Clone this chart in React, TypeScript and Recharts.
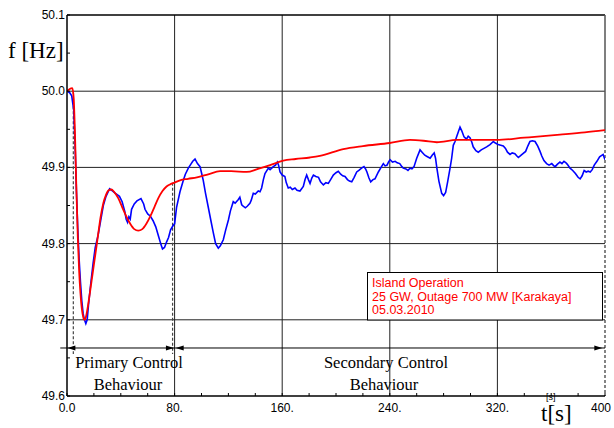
import React from "react";
import { LineChart, Line, XAxis, YAxis, ReferenceLine, ReferenceDot } from "recharts";

// simulated frequency (red)
const simT = [0, 2, 4, 5, 6, 7, 8, 9, 10, 11, 12, 13, 14, 15, 17, 19, 21, 23, 25, 27, 29, 31, 33, 35, 38, 41, 44, 47, 50, 53, 56, 59, 62, 65, 68, 71, 74, 77, 80, 84, 90, 96.6, 105, 113.8, 122, 133.6, 142, 151, 160.8, 170, 180.7, 188, 205.4, 220, 240, 255, 265, 275, 289.7, 300, 319.5, 340, 366.5, 385, 400];
const simF = [50.0, 50.003, 50.004, 49.99, 49.94, 49.87, 49.81, 49.765, 49.735, 49.715, 49.704, 49.7, 49.703, 49.712, 49.735, 49.76, 49.785, 49.81, 49.835, 49.853, 49.864, 49.87, 49.871, 49.868, 49.86, 49.848, 49.836, 49.826, 49.819, 49.817, 49.819, 49.826, 49.836, 49.848, 49.86, 49.869, 49.875, 49.878, 49.88, 49.883, 49.885, 49.887, 49.891, 49.895, 49.895, 49.894, 49.898, 49.903, 49.909, 49.911, 49.913, 49.915, 49.924, 49.928, 49.932, 49.936, 49.935, 49.933, 49.936, 49.936, 49.936, 49.939, 49.943, 49.946, 49.949];

// measured frequency (blue)
const measT = [0, 2, 3.5, 5, 6, 7, 8, 9, 10, 11, 12, 13, 14, 15, 16, 17.5, 19.4, 21, 23, 25, 27, 29, 31.7, 34, 36, 39, 41, 43, 44, 45, 46, 47, 48, 50, 52, 55, 57, 58, 60, 62, 64, 66, 68, 70, 71, 72.5, 74, 75.5, 77, 79, 80, 81.5, 84, 86.5, 88, 90.2, 92, 93.5, 95.2, 97, 98.9, 100, 101.3, 103, 105, 107, 108.8, 110.5, 112.5, 114, 116.2, 118, 120, 121.5, 123.6, 125, 127.4, 128.5, 129.9, 131, 132.6, 134, 136, 137, 138.5, 140, 142.2, 143.5, 144.7, 146, 147.2, 149.7, 151, 153.4, 155, 156.4, 157.3, 158.4, 160, 162, 163, 164.5, 166, 167.5, 169.5, 171, 173.2, 175.7, 177, 178.2, 179.5, 180.7, 182, 183.2, 185, 187, 188.5, 190.6, 192.5, 194.3, 196, 198, 200, 201.7, 203.5, 205, 206.7, 208.5, 210, 211.7, 213.5, 215.4, 217, 219, 220.8, 222, 223, 224.5, 225.8, 227.5, 229, 231.5, 233.5, 235.2, 236.5, 238, 239, 240.2, 242, 244, 245.5, 247.4, 249, 250, 252, 253.5, 255, 256.5, 258, 260, 262.5, 264, 266, 268, 270, 271.5, 273, 274, 275, 276.5, 278.6, 280, 281.5, 283, 284.8, 286, 287.2, 288.5, 290, 292.2, 293.5, 295.2, 297, 298.3, 299.6, 301, 302, 304, 305.8, 308, 310, 312, 314.5, 317, 318.5, 320.5, 322.5, 324.4, 326, 327.5, 329.4, 331, 333, 334.5, 335.6, 337, 339, 341, 342.6, 344.2, 346, 348, 350, 351.7, 353, 354.6, 356.6, 358.4, 360.4, 362, 363, 364.5, 366.5, 368, 369.5, 371, 372, 374, 376, 378, 380, 381.5, 383, 384.5, 386, 387.5, 389, 390.5, 392, 394, 396, 398.6, 400];
const measF = [50.0, 49.998, 49.994, 49.975, 49.93, 49.87, 49.82, 49.78, 49.75, 49.725, 49.708, 49.7, 49.695, 49.7, 49.72, 49.745, 49.774, 49.795, 49.81, 49.83, 49.85, 49.862, 49.872, 49.869, 49.866, 49.862, 49.855, 49.842, 49.832, 49.828, 49.835, 49.832, 49.845, 49.852, 49.856, 49.859, 49.852, 49.845, 49.839, 49.836, 49.83, 49.822, 49.81, 49.798, 49.793, 49.795, 49.802, 49.808, 49.818, 49.824, 49.826, 49.848, 49.868, 49.883, 49.891, 49.899, 49.904, 49.908, 49.911, 49.905, 49.901, 49.893, 49.883, 49.866, 49.848, 49.83, 49.814, 49.8, 49.794, 49.797, 49.805, 49.818, 49.831, 49.843, 49.855, 49.853, 49.858, 49.861, 49.851, 49.849, 49.847, 49.849, 49.853, 49.857, 49.866, 49.865, 49.869, 49.868, 49.873, 49.884, 49.892, 49.899, 49.897, 49.901, 49.903, 49.907, 49.903, 49.894, 49.89, 49.888, 49.88, 49.873, 49.874, 49.871, 49.873, 49.87, 49.869, 49.875, 49.884, 49.89, 49.884, 49.879, 49.886, 49.89, 49.888, 49.887, 49.881, 49.877, 49.88, 49.879, 49.884, 49.89, 49.893, 49.895, 49.891, 49.889, 49.888, 49.884, 49.882, 49.881, 49.887, 49.894, 49.896, 49.899, 49.901, 49.898, 49.894, 49.886, 49.881, 49.884, 49.885, 49.894, 49.9, 49.905, 49.902, 49.903, 49.907, 49.91, 49.907, 49.908, 49.906, 49.905, 49.901, 49.899, 49.898, 49.896, 49.899, 49.898, 49.901, 49.912, 49.923, 49.92, 49.916, 49.914, 49.912, 49.916, 49.919, 49.912, 49.899, 49.882, 49.866, 49.863, 49.867, 49.881, 49.899, 49.912, 49.929, 49.934, 49.942, 49.953, 49.948, 49.94, 49.937, 49.941, 49.939, 49.933, 49.927, 49.922, 49.92, 49.923, 49.925, 49.927, 49.93, 49.934, 49.932, 49.93, 49.929, 49.928, 49.925, 49.92, 49.917, 49.919, 49.918, 49.915, 49.913, 49.915, 49.918, 49.921, 49.928, 49.934, 49.935, 49.934, 49.928, 49.921, 49.915, 49.909, 49.905, 49.903, 49.905, 49.902, 49.901, 49.904, 49.907, 49.905, 49.908, 49.906, 49.904, 49.899, 49.896, 49.892, 49.887, 49.885, 49.889, 49.896, 49.894, 49.895, 49.894, 49.897, 49.903, 49.908, 49.914, 49.917, 49.91];

const xTicks = [0, 20, 40, 60, 80, 100, 120, 140, 160, 180, 200, 220, 240, 260, 280, 300, 320, 340, 360, 380, 400];
const yTicks = [49.6, 49.65, 49.7, 49.75, 49.8, 49.85, 49.9, 49.95, 50.0, 50.05, 50.1];
const xGrid = [80, 160, 240, 320];
const yGrid = [49.7, 49.8, 49.9, 50.0];

const simData = simT.map((t, i) => ({ t, f: simF[i] }));
const measData = measT.map((t, i) => ({ t, f: measF[i] }));

const ARROW_Y = 49.663;
const SANS = "'Liberation Sans', Arial, sans-serif";
const SERIF = "'Liberation Serif', 'Times New Roman', serif";

function XTick(props: any) {
  const { x, y, payload } = props;
  const v = payload.value;
  const major = v % 80 === 0;
  let label = `${v}.`;
  if (v === 0) label = "0.0";
  if (v === 400) label = "400";
  return (
    <g>
      <line x1={x} x2={x} y1={y} y2={y - 3} stroke="#000" />
      {major && (
        <text
          x={v === 400 ? x - 4 : x}
          y={y + 16}
          textAnchor="middle"
          fontSize={12}
          fontFamily={SANS}
          fill="#000"
        >
          {label}
        </text>
      )}
    </g>
  );
}

function YTick(props: any) {
  const { x, y, payload } = props;
  const v = payload.value;
  const major = Math.round(v * 100) % 10 === 0;
  return (
    <g>
      <line x1={x} x2={x + 3} y1={y} y2={y} stroke="#000" />
      {major && (
        <text x={x - 2} y={y + 4} textAnchor="end" fontSize={12} fontFamily={SANS} fill="#000">
          {v.toFixed(1)}
        </text>
      )}
    </g>
  );
}

const arrowLeft = (p: any) => (
  <polygon points={`${p.cx},${p.cy} ${p.cx + 8},${p.cy - 2.5} ${p.cx + 8},${p.cy + 2.5}`} fill="#000" />
);
const arrowRight = (p: any) => (
  <polygon points={`${p.cx},${p.cy} ${p.cx - 8},${p.cy - 2.5} ${p.cx - 8},${p.cy + 2.5}`} fill="#000" />
);

export default function App() {
  return (
    <div style={{ position: "absolute", left: 0, top: 0, width: 614, height: 428, background: "#fff" }}>
      <LineChart width={614} height={428} margin={{ top: 15, right: 9, bottom: 2, left: 7 }}>
        <XAxis
          dataKey="t"
          type="number"
          domain={[0, 400]}
          ticks={xTicks}
          interval={0}
          tickSize={0}
          tickMargin={0}
          height={30}
          axisLine={{ stroke: "#000", strokeWidth: 1.5 }}
          tick={(p: any) => <XTick {...p} />}
          allowDataOverflow
        />
        <YAxis
          type="number"
          domain={[49.6, 50.1]}
          ticks={yTicks}
          interval={0}
          tickSize={0}
          tickMargin={0}
          width={60}
          axisLine={{ stroke: "#000", strokeWidth: 1.5 }}
          tick={(p: any) => <YTick {...p} />}
          allowDataOverflow
        />
        {xGrid.map((v) => (
          <ReferenceLine key={`gx${v}`} x={v} stroke="#222" strokeWidth={1} />
        ))}
        {yGrid.map((v) => (
          <ReferenceLine key={`gy${v}`} y={v} stroke="#222" strokeWidth={1} />
        ))}
        <ReferenceLine y={50.1} stroke="#000" strokeWidth={1.5} />
        <ReferenceLine
          segment={[{ x: 400, y: 50.1 }, { x: 400, y: 49.949 }]}
          stroke="#555"
          strokeWidth={1.5}
        />
        <ReferenceLine
          segment={[{ x: 400, y: 49.949 }, { x: 400, y: 49.6 }]}
          stroke="#333"
          strokeWidth={1.2}
          strokeDasharray="3 2"
        />
        <ReferenceLine
          segment={[{ x: 4.7, y: 50.0 }, { x: 4.7, y: 49.655 }]}
          stroke="#444"
          strokeWidth={1.2}
          strokeDasharray="3 2"
        />
        <ReferenceLine
          segment={[{ x: 78.5, y: 49.88 }, { x: 78.5, y: 49.655 }]}
          stroke="#444"
          strokeWidth={1.2}
          strokeDasharray="3 2"
        />
        <ReferenceLine
          segment={[{ x: -5, y: ARROW_Y }, { x: 400, y: ARROW_Y }]}
          stroke="#000"
          strokeWidth={1}
          ifOverflow="visible"
        />
        <ReferenceDot x={0.3} y={ARROW_Y} r={0} shape={arrowLeft} ifOverflow="visible" />
        <ReferenceDot x={79.5} y={ARROW_Y} r={0} shape={arrowRight} ifOverflow="visible" />
        <ReferenceDot x={80.8} y={ARROW_Y} r={0} shape={arrowLeft} ifOverflow="visible" />
        <ReferenceDot x={398} y={ARROW_Y} r={0} shape={arrowRight} ifOverflow="visible" />
        <Line
          data={measData}
          dataKey="f"
          type="linear"
          stroke="#0000ff"
          strokeWidth={1.6}
          dot={false}
          isAnimationActive={false}
        />
        <Line
          data={simData}
          dataKey="f"
          type="monotone"
          stroke="#ff0000"
          strokeWidth={1.8}
          dot={false}
          isAnimationActive={false}
        />
      </LineChart>
      <svg
        width={614}
        height={428}
        style={{ position: "absolute", left: 0, top: 0, pointerEvents: "none" }}
      >
        <text x={8} y={58} fontSize={23} fontFamily={SERIF} fill="#000">
          f [Hz]
        </text>
        <text x={129} y={368} fontSize={16.5} fontFamily={SERIF} textAnchor="middle" fill="#000">
          Primary Control
        </text>
        <text x={128} y={390} fontSize={16.5} fontFamily={SERIF} textAnchor="middle" fill="#000">
          Behaviour
        </text>
        <text x={386} y={368} fontSize={16.5} fontFamily={SERIF} textAnchor="middle" fill="#000">
          Secondary Control
        </text>
        <text x={384} y={390} fontSize={16.5} fontFamily={SERIF} textAnchor="middle" fill="#000">
          Behaviour
        </text>
        <text x={546} y={400} fontSize={9} fontFamily={SANS} fill="#000">
          [s]
        </text>
        <text x={541} y={421} fontSize={23} fontFamily={SERIF} fill="#000">
          t[s]
        </text>
        <rect x={367.5} y={272.5} width={235} height={47.5} fill="#fff" stroke="#000" strokeWidth={1} />
        <text fontSize={12.5} fontFamily={SANS} fill="#ff0000">
          <tspan x={372} y={287.3}>Island Operation</tspan>
          <tspan x={372} y={300.8}>25 GW, Outage 700 MW [Karakaya]</tspan>
          <tspan x={372} y={313.8}>05.03.2010</tspan>
        </text>
      </svg>
    </div>
  );
}
